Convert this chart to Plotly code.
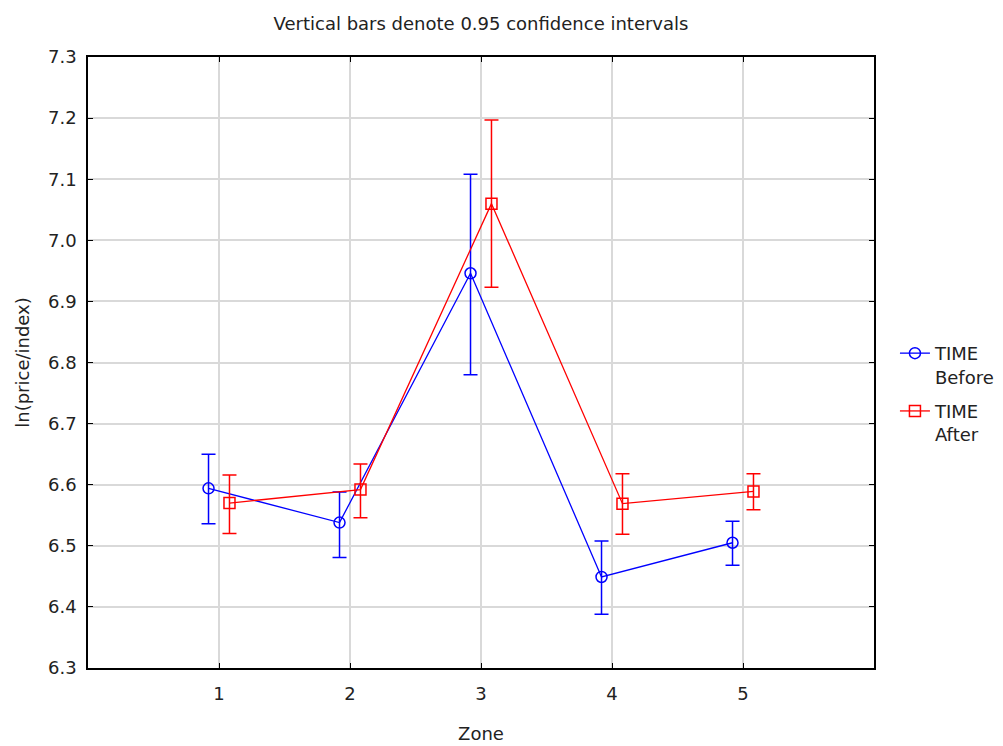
import plotly.graph_objects as go

zones = [1, 2, 3, 4, 5]
tick_labels = ["1", "2", "3", "4", "5"]

before_mean = [6.594, 6.538, 6.946, 6.449, 6.505]
before_upper = [6.650, 6.588, 7.108, 6.508, 6.540]
before_lower = [6.536, 6.481, 6.780, 6.388, 6.468]

after_mean = [6.570, 6.592, 7.060, 6.569, 6.589]
after_upper = [6.616, 6.634, 7.197, 6.618, 6.618]
after_lower = [6.520, 6.546, 6.923, 6.519, 6.559]

DODGE = 0.08
FONT = "DejaVu Sans, Liberation Sans, Arial, sans-serif"
TXT = "#222222"
FS = 18

fig = go.Figure()

def add_series(name, mean, upper, lower, color, symbol, shift, group):
    fig.add_trace(go.Scatter(
        x=[z + shift for z in zones],
        y=mean,
        name=name,
        legendgroup=group,
        mode="lines+markers",
        line=dict(color=color, width=1.3),
        marker=dict(symbol=symbol, size=11, color=color, line=dict(color=color, width=1.5)),
        error_y=dict(
            type="data",
            symmetric=False,
            array=[u - m for u, m in zip(upper, mean)],
            arrayminus=[m - l for m, l in zip(mean, lower)],
            color=color,
            thickness=1.5,
            width=7,
        ),
    ))

add_series("TIME<br>Before", before_mean, before_upper, before_lower, "#0000ff", "circle-open", -DODGE, "b")
add_series("TIME<br>After", after_mean, after_upper, after_lower, "#ff0000", "square-open", DODGE, "a")

axis_common = dict(
    showline=True, linecolor="#000000", linewidth=1.5, mirror="ticks",
    ticks="inside", ticklen=5, tickcolor="#000000", tickwidth=1.2,
    showgrid=True, gridcolor="#d9d9d9", gridwidth=1.5,
    zeroline=False, automargin=False,
    tickfont=dict(family=FONT, size=FS, color=TXT),
)

fig.update_layout(
    width=995, height=738,
    paper_bgcolor="white", plot_bgcolor="white",
    margin=dict(l=80, r=129, t=49, b=78, autoexpand=False),
    title=dict(text="Vertical bars denote 0.95 confidence intervals",
               x=0.5, xref="paper", y=0.979, yref="container", yanchor="middle",
               font=dict(family=FONT, size=FS, color=TXT)),
    xaxis=dict(range=[0, 6], tickvals=zones, ticktext=tick_labels, ticklabelstandoff=9,
               title=dict(text="Zone", font=dict(family=FONT, size=FS, color=TXT), standoff=24),
               **axis_common),
    yaxis=dict(range=[6.3, 7.3], dtick=0.1, tickformat=".1f", ticklabelstandoff=6,
               title=dict(text="ln(price/index)", font=dict(family=FONT, size=FS, color=TXT), standoff=14),
               **axis_common),
    legend=dict(xref="container", yref="container", x=0.8914, xanchor="left",
                y=0.557, yanchor="top",
                font=dict(family=FONT, size=FS, color=TXT),
                valign="top", bgcolor="rgba(0,0,0,0)", tracegroupgap=8,
                traceorder="grouped"),
    showlegend=True,
)

fig.write_html("out.html")
